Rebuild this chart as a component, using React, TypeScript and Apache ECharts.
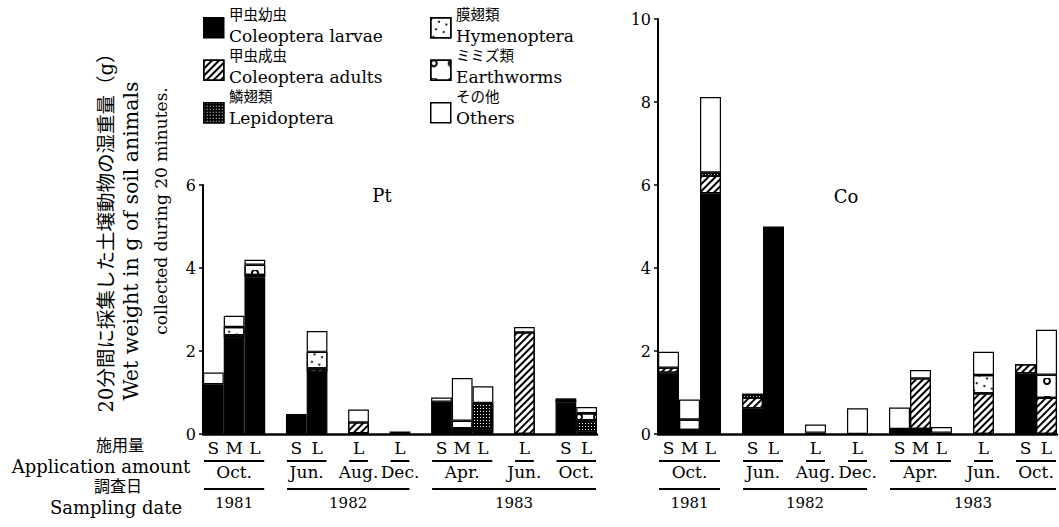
import React, { useEffect, useRef } from 'react';
import * as echarts from 'echarts';

const SERIF = "'DejaVu Serif', 'Noto Sans CJK JP', serif";
const CJK = "'DejaVu Serif', 'Noto Sans CJK JP', sans-serif";

// Bar slots (empty strings are gaps between sampling dates)
const slots = ['S', 'M', 'L', '', 'S', 'L', '', 'L', '', 'L', '', 'S', 'M', 'L', '', 'L', '', 'S', 'L'];

const jpNames = ['甲虫幼虫', '甲虫成虫', '鱗翅類', '膜翅類', 'ミミズ類', 'その他'];
const enNames = ['Coleoptera larvae', 'Coleoptera adults', 'Lepidoptera', 'Hymenoptera', 'Earthworms', 'Others'];

// Pt panel (g)
const ptLarvae = [1.20, 2.32, 3.78, 0, 0.48, 1.50, 0, 0.02, 0, 0.06, 0, 0.72, 0.08, 0.05, 0, 0, 0, 0.76, 0.06];
const ptAdults = [0, 0.06, 0.05, 0, 0, 0.08, 0, 0.26, 0, 0, 0, 0.06, 0.06, 0.05, 0, 2.45, 0, 0.06, 0];
const ptLepid = [0, 0, 0, 0, 0, 0, 0, 0, 0, 0, 0, 0, 0, 0.65, 0, 0, 0, 0, 0.27];
const ptHymen = [0, 0.20, 0, 0, 0, 0.40, 0, 0, 0, 0, 0, 0, 0, 0, 0, 0, 0, 0, 0];
const ptWorms = [0, 0, 0.25, 0, 0, 0, 0, 0, 0, 0, 0, 0, 0.18, 0, 0, 0, 0, 0, 0.17];
const ptOthers = [0.28, 0.27, 0.12, 0, 0, 0.50, 0, 0.31, 0, 0, 0, 0.10, 1.03, 0.40, 0, 0.13, 0, 0.04, 0.15];

// Co panel (g)
const coLarvae = [1.48, 0.05, 5.80, 0, 0.62, 5.00, 0, 0.03, 0, 0, 0, 0.12, 0.12, 0.03, 0, 0, 0, 1.46, 0];
const coAdults = [0.12, 0.05, 0.42, 0, 0.25, 0, 0, 0, 0, 0, 0, 0, 1.22, 0, 0, 0.98, 0, 0.22, 0.87];
const coLepid = [0, 0, 0.08, 0, 0.10, 0, 0, 0, 0, 0, 0, 0, 0, 0, 0, 0, 0, 0, 0];
const coHymen = [0, 0, 0, 0, 0, 0, 0, 0, 0, 0, 0, 0, 0, 0, 0, 0.44, 0, 0, 0];
const coWorms = [0, 0.25, 0, 0, 0, 0, 0, 0, 0, 0, 0, 0, 0, 0, 0, 0, 0, 0, 0.56];
const coOthers = [0.38, 0.48, 1.82, 0, 0, 0, 0, 0.20, 0, 0.62, 0, 0.52, 0.20, 0.14, 0, 0.56, 0, 0, 1.08];

const ptSeries = [ptLarvae, ptAdults, ptLepid, ptHymen, ptWorms, ptOthers];
const coSeries = [coLarvae, coAdults, coLepid, coHymen, coWorms, coOthers];

// month groups (slot index ranges) and year groups
const months = [
  { label: 'Oct.', from: 0, to: 2 },
  { label: 'Jun.', from: 4, to: 5 },
  { label: 'Aug.', from: 7, to: 7 },
  { label: 'Dec.', from: 9, to: 9 },
  { label: 'Apr.', from: 11, to: 13 },
  { label: 'Jun.', from: 15, to: 15 },
  { label: 'Oct.', from: 17, to: 18 },
];
const years = [
  { label: '1981', from: 0, to: 2 },
  { label: '1982', from: 4, to: 9 },
  { label: '1983', from: 11, to: 18 },
];
const panelNames = ['Pt', 'Co'];
const yMax = [6, 10];

const fills: any[] = [
  { color: '#000' },
  { color: '#fff', decal: { symbol: 'rect', symbolSize: 1, symbolKeepAspect: false, color: '#000', dashArrayX: [1, 0], dashArrayY: [2, 3], rotation: -Math.PI / 4 } },
  { color: '#000', decal: { symbol: 'rect', symbolSize: 1, symbolKeepAspect: false, color: '#fff', dashArrayX: [1, 2], dashArrayY: [1, 2], rotation: 0 } },
  { color: '#fff', decal: { symbol: 'circle', symbolSize: 1, color: '#000', dashArrayX: [2, 6], dashArrayY: [2, 6], rotation: 0.35 } },
  { color: '#fff', decal: { symbol: 'emptyCircle', symbolSize: 1, color: '#000', dashArrayX: [6, 12], dashArrayY: [6, 12], rotation: 0 } },
  { color: '#fff' },
];

const toData = (arr: number[]) => arr.map((v) => (v > 0 ? v : null));

function buildSeries() {
  const out: any[] = [];
  [ptSeries, coSeries].forEach((set, ai) => {
    set.forEach((arr, si) => {
      out.push({
        type: 'bar',
        name: enNames[si],
        xAxisIndex: ai,
        yAxisIndex: ai,
        stack: 'p' + ai,
        barCategoryGap: '0%',
        data: toData(arr),
        itemStyle: { color: fills[si].color, decal: fills[si].decal, borderColor: '#000', borderWidth: 1.2 },
        emphasis: { disabled: true },
      });
    });
  });
  return out;
}

const ROW = 41; // legend row pitch
const LEG_TOP = 17;

const legendBase = {
  orient: 'vertical',
  top: LEG_TOP,
  padding: 0,
  itemWidth: 20,
  itemHeight: 20,
  itemGap: ROW - 20,
  icon: 'rect',
  selectedMode: false,
  formatter: () => '',
  itemStyle: { borderColor: '#000', borderWidth: 1.5 },
  textStyle: { fontSize: 1 },
};

export default function App() {
  const ref = useRef<HTMLDivElement>(null);
  useEffect(() => {
    if (!ref.current) return;
    const chart = echarts.init(ref.current, null, { renderer: 'svg' });
    const axisLabel = { color: '#000', fontFamily: SERIF, fontSize: 16, margin: 7 };
    const option: any = {
      animation: false,
      grid: [
        { left: 203, top: 185, width: 394, height: 249 },
        { left: 658, top: 19, width: 399, height: 415 },
      ],
      xAxis: [0, 1].map((i) => ({
        type: 'category',
        gridIndex: i,
        data: slots,
        axisLine: { lineStyle: { color: '#000', width: 2.5 } },
        axisTick: { show: false },
        axisLabel: { color: '#000', fontFamily: SERIF, fontSize: 17, margin: 5, interval: 0 },
      })),
      yAxis: [0, 1].map((i) => ({
        type: 'value',
        gridIndex: i,
        min: 0,
        max: yMax[i],
        interval: 2,
        axisLine: { show: true, lineStyle: { color: '#000', width: 2 } },
        axisTick: { show: true, length: 4, lineStyle: { color: '#000', width: 1.5 } },
        splitLine: { show: false },
        axisLabel,
      })),
      legend: [
        { ...legendBase, left: 203, data: enNames.slice(0, 3) },
        { ...legendBase, left: 430, data: enNames.slice(3) },
      ],
      series: buildSeries(),
    };
    chart.setOption(option);

    const g: any[] = [];
    const txt = (x: number, y: number, text: string, size: number, family = SERIF, extra: any = {}, align = 'center') => ({
      type: 'text',
      x,
      y,
      ...extra,
      style: {
        text,
        fontSize: size,
        fontFamily: family,
        fill: '#000',
        align,
        verticalAlign: 'middle',
        textAlign: align,
        textVerticalAlign: 'middle',
      },
    });
    const hline = (x0: number, x1: number, y: number) => ({
      type: 'line',
      shape: { x1: x0, y1: y, x2: x1, y2: y },
      style: { stroke: '#000', lineWidth: 2 },
    });

    [0, 1].forEach((ai) => {
      const px = (i: number) => chart.convertToPixel({ xAxisIndex: ai } as any, i) as number;
      const half = (px(1) - px(0)) / 2;
      const base = chart.convertToPixel({ yAxisIndex: ai } as any, 0) as number;
      months.forEach((m) => {
        const x0 = px(m.from) - half + 1;
        const x1 = px(m.to) + half - 1;
        g.push(hline(x0, x1, base + 27));
        g.push(txt((x0 + x1) / 2, base + 38, m.label, 17));
      });
      years.forEach((yv) => {
        const x0 = px(yv.from) - half + 1;
        const x1 = px(yv.to) + half - 1;
        g.push(hline(x0, x1, base + 55));
        g.push(txt((x0 + x1) / 2, base + 69, yv.label, 15));
      });
    });
    // legend labels (two lines each, next to the legend swatches)
    enNames.forEach((en, i) => {
      const col = Math.floor(i / 3);
      const row = i % 3;
      const x = col === 0 ? 229 : 456;
      const yMid = LEG_TOP + 10 + row * ROW;
      g.push(txt(x, yMid - 12, jpNames[i], 14.5, CJK, {}, 'left'));
      g.push(txt(x, yMid + 8.5, en, 17, SERIF, {}, 'left'));
    });
    // panel names
    g.push(txt(382, 195, panelNames[0], 18));
    g.push(txt(846, 196, panelNames[1], 18));
    // y axis title
    g.push(txt(106, 228, '20分間に採集した土壌動物の湿重量（g）', 19.5, CJK, { rotation: Math.PI / 2 }));
    g.push(txt(131, 241, 'Wet weight in g of soil animals', 20.5, SERIF, { rotation: Math.PI / 2 }));
    g.push(txt(161, 211, 'collected during 20 minutes.', 17, SERIF, { rotation: Math.PI / 2 }));
    // row labels
    g.push(txt(120, 445, '施用量', 16, CJK));
    g.push(txt(101, 466, 'Application amount', 18));
    g.push(txt(118, 486, '調査日', 16, CJK));
    g.push(txt(116, 507, 'Sampling date', 18));

    chart.setOption({ graphic: g });
    return () => chart.dispose();
  }, []);
  return <div ref={ref} style={{ position: 'absolute', left: 0, top: 0, width: 1059, height: 527, background: '#fff' }} />;
}
